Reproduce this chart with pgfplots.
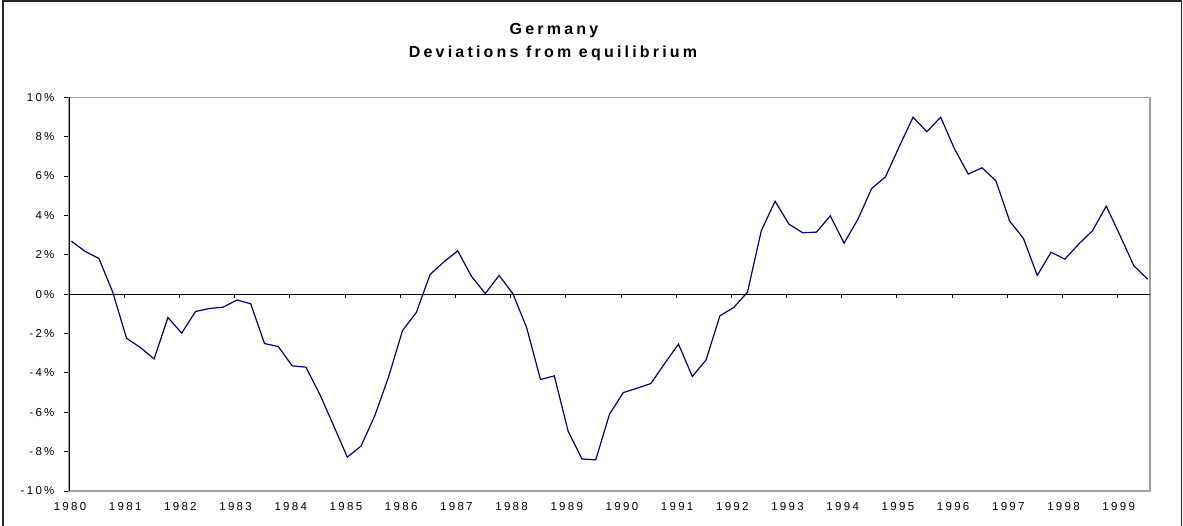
\documentclass[border=0pt]{standalone}
\usepackage{fontspec}
\setmainfont{Liberation Sans}
\newfontfamily\lsfont[LetterSpace=20]{Liberation Sans}
\usepackage{pgfplots}
\pgfplotsset{compat=1.18}
\definecolor{navyline}{RGB}{0,0,128}
\definecolor{framegray}{RGB}{160,160,160}
\pgfplotstableread{
q v
0 2.69
1 2.17
2 1.81
3 0.10
4 -2.24
5 -2.71
6 -3.29
7 -1.19
8 -1.98
9 -0.88
10 -0.73
11 -0.66
12 -0.30
13 -0.49
14 -2.51
15 -2.66
16 -3.64
17 -3.71
18 -5.08
19 -6.67
20 -8.28
21 -7.71
22 -6.16
23 -4.18
24 -1.85
25 -0.93
26 1.00
27 1.64
28 2.20
29 0.90
30 0.03
31 0.95
32 0.02
33 -1.71
34 -4.34
35 -4.15
36 -6.96
37 -8.37
38 -8.42
39 -6.10
40 -5.00
41 -4.78
42 -4.54
43 -3.52
44 -2.54
45 -4.18
46 -3.34
47 -1.10
48 -0.68
49 0.10
50 3.22
51 4.72
52 3.56
53 3.12
54 3.15
55 3.98
56 2.59
57 3.80
58 5.37
59 5.96
60 7.50
61 8.99
62 8.25
63 8.99
64 7.38
65 6.10
66 6.42
67 5.76
68 3.71
69 2.83
70 0.95
71 2.13
72 1.78
73 2.54
74 3.22
75 4.47
76 2.98
77 1.44
78 0.76
}\germany
\begin{document}
\begin{tikzpicture}
\pgfplotsset{
  common/.style={
    scale only axis,
    width=1081bp, height=393.7bp,
    at={(69bp,35bp)}, anchor=south west,
    xmin=-0.17, xmax=78.17,
    ymin=-10, ymax=10,
    xtick={-0.17,3.83,7.83,11.83,15.83,19.83,23.83,27.83,31.83,35.83,39.83,43.83,47.83,51.83,55.83,59.83,63.83,67.83,71.83,75.83},
  }
}
% main axis: frame, labels, data
\begin{axis}[common,
  clip=false,
  axis line style={draw=framegray, line width=1.5bp},
  xticklabels={1980,1981,1982,1983,1984,1985,1986,1987,1988,1989,1990,1991,1992,1993,1994,1995,1996,1997,1998,1999},
  xtick style={draw=none},
  xticklabel style={font=\lsfont\fontsize{11.5bp}{13bp}\selectfont, yshift=-8bp, xshift=1bp},
  ytick={-10,-8,-6,-4,-2,0,2,4,6,8,10},
  yticklabels={-10\%,-8\%,-6\%,-4\%,-2\%,0\%,2\%,4\%,6\%,8\%,10\%},
  yticklabel style={font=\lsfont\fontsize{11.5bp}{13bp}\selectfont, xshift=-6bp},
  ytick pos=left, ytick align=outside,
  ytick style={draw=black, line width=0.9bp},
  major tick length=5bp,
]
\draw[black, line width=1bp] (rel axis cs:0,0) -- (rel axis cs:0,1);
\addplot[navyline, line width=1.2bp, mark=none] table[x=q, y=v] {\germany};
\end{axis}
% zero line with year ticks
\begin{axis}[common,
  axis x line=middle, axis y line=none,
  axis line style={-, black, line width=1bp},
  xticklabels={}, ytick=\empty,
  xtick align=outside,
  xtick style={draw=black, line width=0.9bp},
  major tick length=4bp,
]
\addplot[draw=none] coordinates {(0,0)};
\end{axis}
\node[anchor=base, font=\lsfont\bfseries\fontsize{16bp}{18bp}\selectfont] at (554bp,491.7bp) {Germany};
\node[anchor=base, font=\lsfont\bfseries\fontsize{16bp}{18bp}\selectfont] at (553bp,468.7bp) {Deviations from equilibrium};
\draw[line width=1.8bp, black!85] (3bp,-5bp) -- (3bp,525bp) -- (1181.5bp,525bp) -- (1181.5bp,-5bp);
\pgfresetboundingbox
\path[use as bounding box] (0,0) rectangle (1183bp,526bp);
\end{tikzpicture}
\end{document}
